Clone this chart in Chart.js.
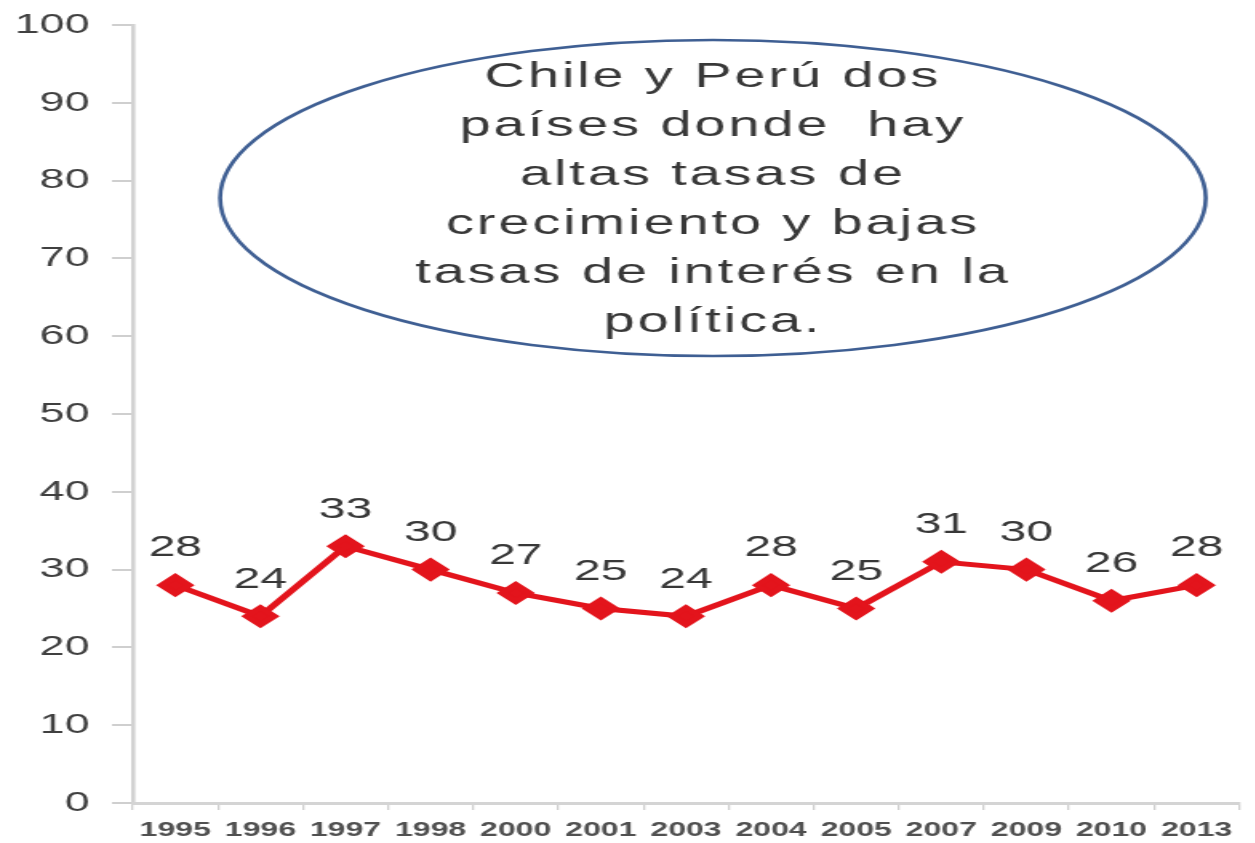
<!DOCTYPE html>
<html><head><meta charset="utf-8">
<script src="https://cdn.jsdelivr.net/npm/chart.js@4"></script>
<style>
html,body{margin:0;padding:0;background:#fff;overflow:hidden;width:1255px;height:843px}
#wrap{width:788px;height:843px;transform:scaleX(1.6);transform-origin:0 0}
</style>
</head><body><div id="wrap"><canvas id="c" width="788" height="843"></canvas></div>
<script>
const categories = ["1995","1996","1997","1998","2000","2001","2003","2004","2005","2007","2009","2010","2013"];
const values = [28,24,33,30,27,25,24,28,25,31,30,26,28];
const yTicks = [0,10,20,30,40,50,60,70,80,90,100];
const noteLines = ["Chile y Perú dos","países donde  hay","altas tasas de","crecimiento y bajas","tasas de interés en la","política."];

const labelsPlugin = {
  id:'dlabels',
  afterDatasetsDraw(chart){
    const ctx=chart.ctx, meta=chart.getDatasetMeta(0);
    ctx.save();
    ctx.font='30px "Liberation Sans", Arial, sans-serif';
    ctx.fillStyle='#383838';ctx.textAlign='center';ctx.textBaseline='middle';
    meta.data.forEach((p,i)=>{ctx.fillText(String(values[i]),p.x,p.y-37);});
    ctx.restore();
  }
};
const notePlugin = {
  id:'note',
  afterDraw(chart){
    const ctx=chart.ctx;
    ctx.save();
    ctx.beginPath();
    ctx.ellipse(445.6,198,308,158,0,0,Math.PI*2);
    ctx.lineWidth=2.6;ctx.strokeStyle='#3f5f93';ctx.stroke();
    ctx.font='35px "Liberation Sans", Arial, sans-serif';
    try{ctx.letterSpacing='1.8px';}catch(e){}
    ctx.fillStyle='#383838';ctx.textAlign='center';ctx.textBaseline='middle';
    noteLines.forEach((t,i)=>ctx.fillText(t,445.6,77+i*49));
    ctx.restore();
  }
};
new Chart(document.getElementById('c'),{
  type:'line',
  data:{labels:categories,datasets:[{data:values,borderColor:'#e3141c',backgroundColor:'#e3141c',borderWidth:5,
    pointStyle:'rectRot',pointRadius:8.5,pointHoverRadius:8.5,tension:0}]},
  options:{responsive:false,animation:false,
    layout:{padding:{top:25,right:0,left:0,bottom:0}},
    plugins:{legend:{display:false},tooltip:{enabled:false}},
    scales:{
      y:{min:0,max:100,afterBuildTicks(s){s.ticks=yTicks.map(v=>({value:v}));},
        afterFit(s){s.width=83;s.paddingTop=0;s.paddingBottom=0;},
        grid:{drawOnChartArea:false,tickLength:13,color:'#cfcfcf',lineWidth:2},
        border:{color:'#d2d2d2',width:2.6},
        ticks:{font:{size:28,family:'"Liberation Sans", Arial, sans-serif'},color:'#404040',padding:14}},
      x:{offset:true,
        afterFit(s){s.height=40;s.paddingLeft=0;s.paddingRight=0;},
        grid:{drawOnChartArea:false,offset:true,tickLength:7,color:'#cfcfcf',lineWidth:1.3},
        border:{color:'#d4d4d4',width:3},
        ticks:{font:{size:20,weight:'bold',family:'"Liberation Sans", Arial, sans-serif'},color:'#505050',padding:8,maxRotation:0,autoSkip:false}}
    }},
  plugins:[labelsPlugin,notePlugin]
});
</script></body></html>
